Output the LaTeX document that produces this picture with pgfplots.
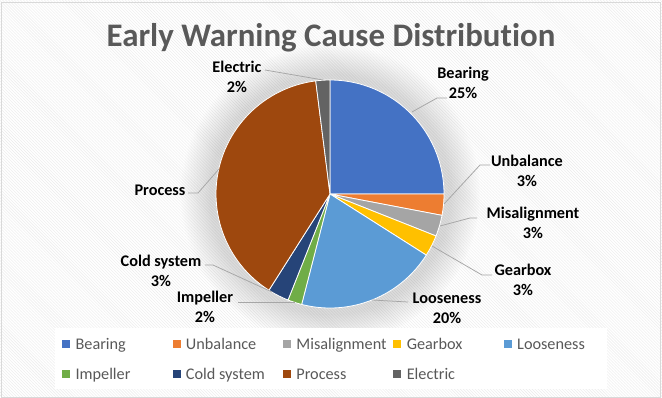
\documentclass[border=0pt]{standalone}
\usepackage{pgfplots}
\pgfplotsset{compat=1.18}
\usepackage{fontspec}
\setmainfont{Carlito}[Ligatures=NoCommon]
\usetikzlibrary{patterns,fadings}
\definecolor{cBearing}{HTML}{4472C4}
\definecolor{cUnbal}{HTML}{ED7D31}
\definecolor{cMis}{HTML}{A5A5A5}
\definecolor{cGear}{HTML}{FFC000}
\definecolor{cLoose}{HTML}{5B9BD5}
\definecolor{cImp}{HTML}{70AD47}
\definecolor{cCold}{HTML}{264478}
\definecolor{cProc}{HTML}{9E480E}
\definecolor{cElec}{HTML}{636363}
\definecolor{txtgray}{HTML}{595959}
\definecolor{leader}{HTML}{A6A6A6}
\definecolor{border}{HTML}{D9D9D9}

% color, cumulative percent before slice, slice percent, legend name
\newcommand{\slice}[4]{%
  \pgfmathsetmacro{\angA}{90-3.6*(#2+#3)}%
  \pgfmathsetmacro{\angB}{90-3.6*#2}%
  \addplot[fill=#1, draw=white, line width=0.8bp, domain=\angA:\angB, samples=60]
    ({330+114*cos(x)}, {194-114*sin(x)}) -- (axis cs:330,194) -- cycle;
  \addlegendentry{\makebox[95bp][l]{\strut #4}}%
}

\begin{document}
\begin{tikzpicture}
% chart area background
\fill[white] (0,0) rectangle (662bp,398bp);
\fill[pattern=north west lines, pattern color=black!8] (0,0) rectangle (662bp,398bp);
\fill[black, opacity=0.14, path fading=circle with fuzzy edge 20 percent] (330bp,204bp) circle (150bp);
\fill[white] (55bp,9bp) rectangle (607bp,70bp);
\draw[border, line width=1bp] (1.5bp,0.5bp) rectangle (660.5bp,395bp);
\begin{axis}[
  width=662bp, height=398bp, scale only axis,
  xmin=0, xmax=662, ymin=0, ymax=398, y dir=reverse,
  hide axis, clip=false,
  legend columns=5,
  legend image code/.code={\fill[#1, draw=none] (0bp,-4bp) rectangle (8bp,4bp); \path (11bp,0bp);},
  legend style={at={(axis cs:62,334.5)}, anchor=north west, draw=none, fill=none,
    inner sep=0pt, column sep=0pt, row sep=11bp,
    font=\fontsize{16.3}{19}\selectfont, text=txtgray,
    nodes={inner sep=2bp}},
]
\slice{cBearing}{0}{25}{Bearing}
\slice{cUnbal}{25}{3}{Unbalance}
\slice{cMis}{28}{3}{Misalignment}
\slice{cGear}{31}{3}{Gearbox}
\slice{cLoose}{34}{20}{Looseness}
\slice{cImp}{54}{2}{Impeller}
\slice{cCold}{56}{3}{Cold system}
\slice{cProc}{59}{39}{Process}
\slice{cElec}{98}{2}{Electric}

% title
\node[font=\bfseries\fontsize{33}{39}\selectfont, text=txtgray] at (axis cs:331,38) {Early Warning Cause Distribution};

% leader lines
\draw[leader, line width=0.75bp] (axis cs:265,70) -- (axis cs:323,80);
\draw[leader, line width=0.75bp] (axis cs:412,112) -- (axis cs:437,98) -- (axis cs:447,98);
\draw[leader, line width=0.75bp] (axis cs:444,204) -- (axis cs:480,165) -- (axis cs:490,165);
\draw[leader, line width=0.75bp] (axis cs:440,226) -- (axis cs:470,218) -- (axis cs:477,218);
\draw[leader, line width=0.75bp] (axis cs:432,246) -- (axis cs:482,275) -- (axis cs:492,275);
\draw[leader, line width=0.75bp] (axis cs:372,300) -- (axis cs:408,302);
\draw[leader, line width=0.75bp] (axis cs:238,302) -- (axis cs:295,302);
\draw[leader, line width=0.75bp] (axis cs:205,265) -- (axis cs:213,265) -- (axis cs:272,292);
\draw[leader, line width=0.75bp] (axis cs:188,193) -- (axis cs:198,193) -- (axis cs:219,169);

% data labels
\tikzset{dl/.style={align=center, font=\bfseries\fontsize{16.3}{20}\selectfont, text=black, inner sep=0pt}}
\node[dl] at (axis cs:237,77) {Electric\\2\%};
\node[dl] at (axis cs:463,83) {Bearing\\25\%};
\node[dl] at (axis cs:527,171) {Unbalance\\3\%};
\node[dl] at (axis cs:533,223) {Misalignment\\3\%};
\node[dl] at (axis cs:523,280) {Gearbox\\3\%};
\node[dl] at (axis cs:447,308) {Looseness\\20\%};
\node[dl] at (axis cs:205,307) {Impeller\\2\%};
\node[dl] at (axis cs:161,271) {Cold system\\3\%};
\node[dl] at (axis cs:160,190) {Process};
\end{axis}
\end{tikzpicture}
\end{document}
